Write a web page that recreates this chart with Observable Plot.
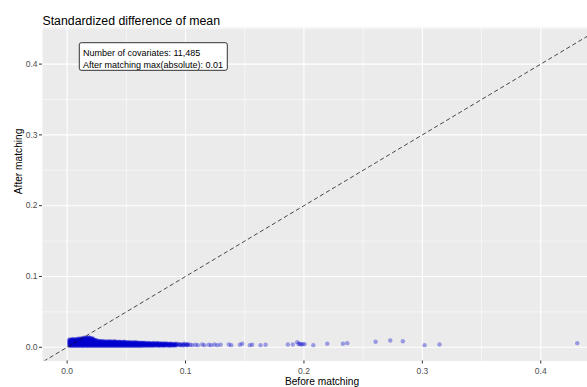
<!DOCTYPE html>
<html><head><meta charset="utf-8">
<script src="https://cdn.jsdelivr.net/npm/d3@7"></script>
<script src="https://cdn.jsdelivr.net/npm/@observablehq/plot@0.6"></script>
<style>
html,body{margin:0;padding:0;background:#fff;overflow:hidden;width:587px;height:387px}
#chart svg{overflow:hidden;display:block}
</style></head><body><div id="chart"></div>
<script>
// ---- text ----
const title = "Standardized difference of mean";
const xLabel = "Before matching";
const yLabel = "After matching";
const annotationLines = ["Number of covariates: 11,485", "After matching max(absolute): 0.01"];

// ---- ticks ----
const xTicks = [0, 0.1, 0.2, 0.3, 0.4];
const yTicks = [0, 0.1, 0.2, 0.3, 0.4];
const xMinor = [0.05, 0.15, 0.25, 0.35, 0.45];
const yMinor = [0.05, 0.15, 0.25, 0.35, 0.45];

// ---- dense cloud: [before (x1000), [after values (x1000)]] ----
const denseCloud = [
  [2, [2,3,4,5.5,6.5,7.5,9,10,11]],
  [3, [2.5,3.5,5,6,7,8.5,9.5,10.5]],
  [4, [2,3,4.5,5.5,7,8,9,10,11]],
  [5, [2,3.5,4.5,6,7,8,9.5,11,11.5]],
  [6, [2.5,3.5,5,6,7.5,8.5,9.5,10.5]],
  [7, [2,3,4.5,5.5,6.5,8,9,10,11.5]],
  [8, [2,3.5,4.5,6,7,8.5,9.5,11]],
  [9, [2.5,3.5,5,6,7.5,8.5,10,11,12]],
  [10, [2,3,4,5.5,6.5,7.5,9,10,11.5]],
  [11, [2,3.5,5,6,7,8.5,9.5,11,12.5]],
  [12, [2.5,3.5,4.5,6,7.5,8.5,10,11,12]],
  [13, [2,3,4,5,6.5,7.5,9,10,11,12.5]],
  [14, [2,3,4.5,5.5,7,8,9.5,10.5,12,13.5]],
  [15, [2.5,3.5,5,6,7,8,9,10,11.5,13]],
  [16, [2,3.5,5,6,7,8.5,9.5,11,12.5,13.5]],
  [17, [2,3,4.5,5.5,6.5,8,9,10.5,11.5,13]],
  [18, [2.5,3.5,4.5,6,7.5,8.5,10,11,12.5,14]],
  [19, [2,3.5,4.5,5.5,7,8,9.5,10.5,12,13.5]],
  [20, [2,3,4.5,5.5,7,8,9,10.5,11.5,13]],
  [21, [2.5,3.5,5,6,7,8,9,10,11.5,12.5]],
  [22, [2,3.5,5,6,7,8.5,9.5,11,12]],
  [23, [2,3,4.5,5.5,6.5,8,9,10.5]],
  [24, [2.5,3.5,4.5,6,7,8,9.5,10]],
  [25, [2,3.5,4.5,6,7,8,9.5]],
  [26, [2,3,4.5,5.5,6.5,8,9]],
  [27, [2.5,3.5,5,6,7,8.5]],
  [28, [2,3.5,5,6,7,8,9]],
  [29, [2,3,4.5,5.5,7,8]],
  [30, [2.5,3.5,4.5,5.5,7,8.5]],
  [31, [2,3.5,5,6,7.5,8.5]],
  [32, [2,3,4.5,6,7,8]],
  [33, [2.5,3.5,4.5,5.5,6.5,7.5]],
  [34, [2,3.5,5,6,7,8.5]],
  [35, [2,3,4.5,6,7,8]],
  [36, [2.5,3.5,4.5,5.5,7,8]],
  [37, [2,3.5,4.5,5.5,7,8.5]],
  [38, [2,3,4.5,6,7,8]],
  [39, [2.5,3.5,5,6,7]],
  [40, [2,3.5,5,6,7.5,8.5]],
  [41, [2,3,4.5,5.5,7,8]],
  [42, [2.5,3.5,4.5,5.5,6.5,7.5]],
  [43, [2,3.5,5,6,7]],
  [44, [2,3,4.5,6,7,8]],
  [45, [2.5,3.5,4.5,5.5,6.5,7.5]],
  [46, [2,3.5,5,6,7]],
  [47, [2,3,4.5,6,7]],
  [48, [2.5,3.5,4.5,5.5,7,8]],
  [49, [2,3.5,5,6,7.5]],
  [50, [2,3,4.5,6,7]],
  [51, [2.5,3.5,4.5,5.5,6.5]],
  [52, [2,3.5,5,6,7]],
  [53, [2,3,4.5,6,7]],
  [54, [2.5,3.5,4.5,5.5,6.5]],
  [55, [2,3.5,5,6,6.5]],
  [56, [2,3,4.5,5.5,7]],
  [57, [2.5,3.5,4.5,5.5,6.5]],
  [58, [2,3.5,5,6,7]],
  [59, [2,3,4.5,5.5,6.5]],
  [60, [2.5,3.5,4.5,5.5,6.5]],
  [61, [2,3.5,5,6]],
  [62, [2,3,4.5,5.5,6.5]],
  [63, [2.5,3.5,4.5,5.5,6]],
  [64, [2,3.5,5,6]],
  [65, [2.5,3.5,4.5,5.5,6.5]],
  [66, [2.5,3.5,4.5,5.5]],
  [67, [2.5,4,5,6]],
  [68, [2.5,3.5,4.5,5.5]],
  [69, [2.5,3,4,5,6]],
  [70, [2.5,4,5,5.5]],
  [71, [2.5,3.5,4.5,5.5]],
  [72, [2.5,3,4,5.5]],
  [73, [2.5,4,5,6]],
  [74, [2.5,3.5,4.5,5.5]],
  [75, [3,4,5]],
  [76, [2.5,4,5,6]],
  [77, [2.5,3.5,4.5,5.5]],
  [78, [2.5,3,4,5.5]],
  [79, [3,4,5]],
  [80, [2.5,3.5,4.5,5.5]],
  [81, [2.5,4,5]],
  [82, [2.5,3,4,5]],
  [83, [3,4.5,5.5]],
  [84, [2.5,4,5]],
  [85, [3,4,5]],
  [86, [2.5,3,4.5]],
  [87, [2.5,4,5]],
  [88, [2.5,4,5]],
  [89, [3,4.5]],
  [90, [2.5,3,4.5]],
  [91, [3,4,5]],
  [92, [2.5,4]],
  [93, [3.5,5]],
  [95, [3,4.5]],
  [96, [3,4]],
  [98, [2.5,4]],
  [99, [3.5,5]],
  [101, [3,4]],
  [102, [3,4.5]],
  [104, [3.5]]
];

// ---- sparse tail ----
const tailBefore = [0.1057,0.1084,0.1104,0.1141,0.1160,0.1197,0.1217,0.1245,0.1268,0.1296,0.1366,0.1386,0.1459,0.1479,0.1543,0.1563,0.1633,0.1676,
  0.1864,0.1906,0.1943,0.1955,0.1965,0.1977,0.1991,0.2005,0.2079,0.2197,0.2329,0.2366,0.2605,0.2729,0.2835,0.3019,0.3145,0.4308];
const tailAfter = [0.003,0.0035,0.003,0.004,0.003,0.0035,0.003,0.004,0.003,0.0035,0.004,0.003,0.0035,0.005,0.003,0.0035,0.003,0.0035,
  0.004,0.004,0.0072,0.0045,0.005,0.004,0.0045,0.0045,0.003,0.005,0.005,0.0058,0.0078,0.0096,0.0086,0.003,0.004,0.0058];

// ---- build table ----
const points = [];
for (const [bx, ys] of denseCloud) for (const ay of ys) points.push({before: bx / 1000, after: ay / 1000});
tailBefore.forEach((b, i) => points.push({before: b, after: tailAfter[i]}));

const xDomain = [-0.0208, 0.4513];
const yDomain = [-0.0194, 0.4517];
const diagonal = [{v: -0.05}, {v: 0.5}];
const annBox = {x1: 0.0107, x2: 0.1357, y1: 0.3905, y2: 0.4295, tx: 0.0133, ty: 0.4086};

const font = "'Liberation Sans', Arial, Helvetica, sans-serif";
const fmt = d3.format(".1f");

const plot = Plot.plot({
  width: 587, height: 387,
  marginLeft: 42, marginRight: -14, marginTop: 27, marginBottom: 26.5,
  style: {fontFamily: font, background: "#ffffff", overflow: "hidden"},
  x: {domain: xDomain},
  y: {domain: yDomain},
  marks: [
    Plot.frame({fill: "#EBEBEB", stroke: null}),
    Plot.ruleX(xMinor, {stroke: "#ffffff", strokeWidth: 0.55}),
    Plot.ruleY(yMinor, {stroke: "#ffffff", strokeWidth: 0.55}),
    Plot.ruleX(xTicks, {stroke: "#ffffff", strokeWidth: 1.1}),
    Plot.ruleY(yTicks, {stroke: "#ffffff", strokeWidth: 1.1}),
    Plot.dot(points, {x: "before", y: "after", r: 2.2, fill: "#0000CD", fillOpacity: 0.35, stroke: null}),
    Plot.line(diagonal, {x: "v", y: "v", stroke: "#000000", strokeWidth: 0.7, strokeDasharray: "3.5,3.5", clip: true}),
    Plot.rect([annBox], {x1: "x1", x2: "x2", y1: "y1", y2: "y2", fill: "#ffffff", stroke: "#000000", strokeWidth: 0.8, rx: 2}),
    Plot.text([annotationLines.join("\n")], {x: () => annBox.tx, y: () => annBox.ty, text: d => d, textAnchor: "start", lineHeight: 1.41, fontSize: 9, fill: "#000000"}),
    Plot.axisX(xTicks, {tickSize: 3, tickPadding: 4, tickFormat: fmt, fontSize: 8.5, fill: "#4D4D4D", stroke: "#333333", label: null}),
    Plot.axisY(yTicks, {tickSize: 3, tickPadding: 2, tickFormat: fmt, fontSize: 8.5, fill: "#4D4D4D", stroke: "#333333", label: null}),
    Plot.text([title], {frameAnchor: "top-left", dy: -11.1, text: d => d, textAnchor: "start", fontSize: 12.3, fill: "#000000"}),
    Plot.text([xLabel], {frameAnchor: "bottom", dy: 23.6, text: d => d, fontSize: 10.2, fill: "#000000"}),
    Plot.text([yLabel], {frameAnchor: "left", dx: -23.5, rotate: -90, text: d => d, fontSize: 10.2, fill: "#000000"})
  ]
});
document.getElementById("chart").appendChild(plot);
</script></body></html>
